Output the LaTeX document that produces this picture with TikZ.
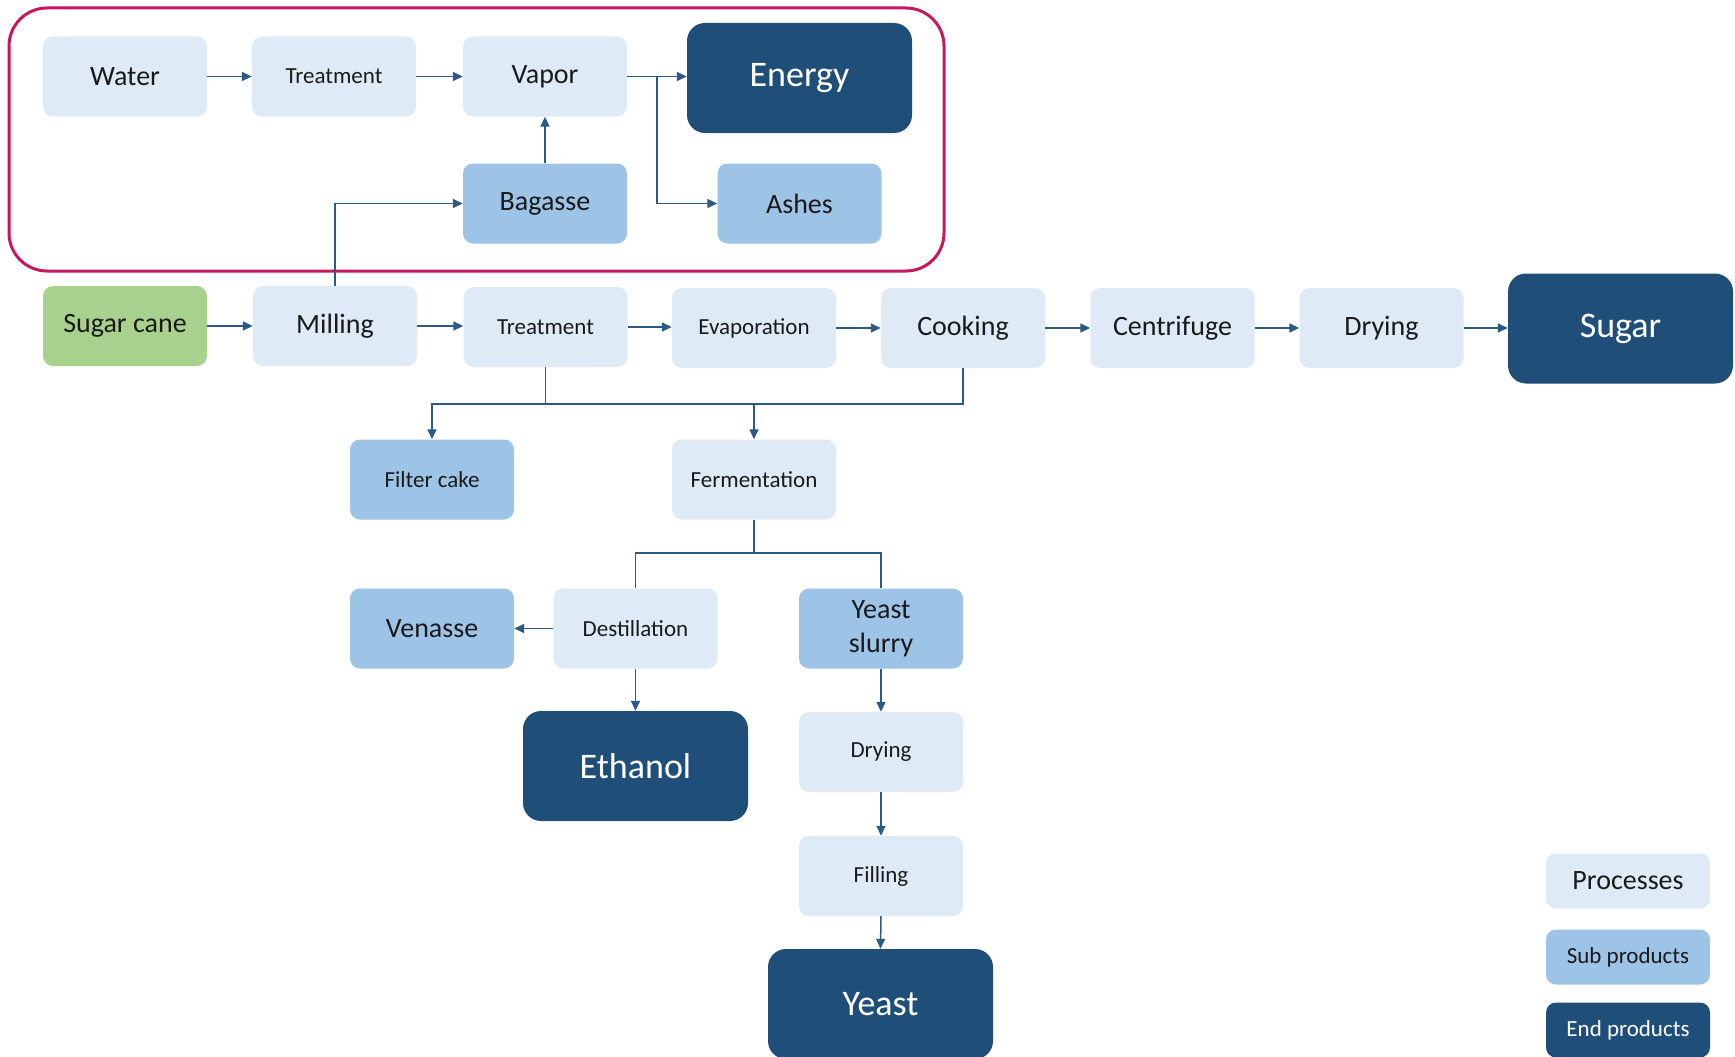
\documentclass[tikz,border=0pt]{standalone}
\usepackage{fontspec}
\setmainfont{Carlito}
\usetikzlibrary{arrows.meta}
\definecolor{procc}{HTML}{DEEBF7}
\definecolor{subc}{HTML}{9DC3E6}
\definecolor{endc}{HTML}{1F4E79}
\definecolor{canec}{HTML}{A9D18E}
\definecolor{framec}{HTML}{C8185C}
\definecolor{linec}{HTML}{2C5A86}
\definecolor{txtc}{HTML}{1A1A1A}
\tikzset{
  box/.style={rounded corners=10pt, minimum width=164pt, minimum height=80pt, align=center, inner sep=0pt, text=txtc},
  proc/.style={box, fill=procc, font=\fontsize{28}{34}\selectfont},
  procs/.style={proc, font=\fontsize{23}{27}\selectfont},
  sub/.style={box, fill=subc, font=\fontsize{28}{34}\selectfont},
  subs/.style={sub, font=\fontsize{23}{27}\selectfont},
  endp/.style={box, fill=endc, text=white, minimum width=225pt, minimum height=110pt, rounded corners=18pt, font=\fontsize{36}{40}\selectfont},
  cane/.style={box, fill=canec, font=\fontsize{28}{34}\selectfont},
  legend/.style={minimum height=55pt},
  conn/.style={draw=linec, line width=1.5pt},
  arr/.style={conn, -{Triangle[length=10pt,width=9pt]}}
}
\begin{document}
\begin{tikzpicture}[x=1pt,y=-1pt]
\clip (0,0) rectangle (1735,1057);
\fill[white] (0,0) rectangle (1735,1057);
% frame
\draw[framec, line width=3pt, rounded corners=38pt] (9,8) rectangle (944,271);
% top group
\node[proc] (water) at (125,76.5) {Water};
\node[procs] (treat1) at (334,76.5) {Treatment};
\node[proc] (vapor) at (545,76.5) {Vapor};
\node[endp] (energy) at (799.5,78) {Energy};
\node[sub] (bagasse) at (545,203.5) {Bagasse};
\node[sub] (ashes) at (799.5,203.5) {Ashes};
% main row
\node[cane] (cane) at (125,326) {Sugar cane};
\node[proc] (milling) at (335,326) {Milling};
\node[procs] (treat2) at (545.5,327) {Treatment};
\node[procs] (evap) at (754,328) {Evaporation};
\node[proc] (cook) at (963,328) {Cooking};
\node[proc] (centri) at (1172.5,328) {Centrifuge};
\node[proc] (dry1) at (1381.5,328) {Drying};
\node[endp] (sugar) at (1620.5,328.5) {Sugar};
% lower
\node[subs] (filter) at (432,479.5) {Filter cake};
\node[procs] (ferm) at (754,479.5) {Fermentation};
\node[sub] (venasse) at (432,628.5) {Venasse};
\node[procs] (dest) at (635.5,628.5) {Destillation};
\node[sub] (slurry) at (881,628.5) {Yeast\\slurry};
\node[endp] (ethanol) at (635.5,766) {Ethanol};
\node[procs] (dry2) at (881,752) {Drying};
\node[procs] (fill) at (881,876) {Filling};
\node[endp] (yeast) at (880.5,1004) {Yeast};
% legend
\node[proc, legend] (lproc) at (1628,881) {Processes};
\node[subs, legend] (lsub) at (1628,957) {Sub products};
\node[endp, legend, minimum width=164pt, rounded corners=10pt, font=\fontsize{23}{27}\selectfont] (lend) at (1628,1030) {End products};
% connectors top
\draw[arr] (water) -- (treat1);
\draw[arr] (treat1) -- (vapor);
\draw[arr] (vapor.east) -- (vapor.east -| energy.west);
\coordinate (vj) at (657,76.5);
\draw[arr] (vj) |- (ashes.west);
\draw[arr] (bagasse.north) -- (vapor.south);
\draw[arr] (milling.north) |- (bagasse.west);
% main row connectors
\draw[arr] (cane.east) -- (cane.east -| milling.west);
\draw[arr] (milling.east) -- (milling.east -| treat2.west);
\draw[arr] (treat2.east) -- (treat2.east -| evap.west);
\draw[arr] (evap.east) -- (evap.east -| cook.west);
\draw[arr] (cook.east) -- (cook.east -| centri.west);
\draw[arr] (centri.east) -- (centri.east -| dry1.west);
\draw[arr] (dry1.east) -- (dry1.east -| sugar.west);
% bus to filter cake / fermentation
\coordinate (bus) at (0,404);
\draw[conn] (treat2.south) -- (treat2.south |- bus) -| (cook.south);
\draw[arr] (treat2.south |- bus) -| (filter.north);
\draw[arr] (ferm.north |- bus) -- (ferm.north);
% fermentation split
\coordinate (bus2) at (0,553);
\draw[conn] (ferm.south) -- (ferm.south |- bus2);
\draw[conn] (dest.north) |- (slurry.north |- bus2) -- (slurry.north);
\draw[arr] (dest.west) -- (venasse.east);
\draw[arr] (dest.south) -- (ethanol.north);
\draw[arr] (slurry.south) -- (dry2.north);
\draw[arr] (dry2.south) -- (fill.north);
\draw[arr] (fill.south) -- (yeast.north);
\end{tikzpicture}
\end{document}
